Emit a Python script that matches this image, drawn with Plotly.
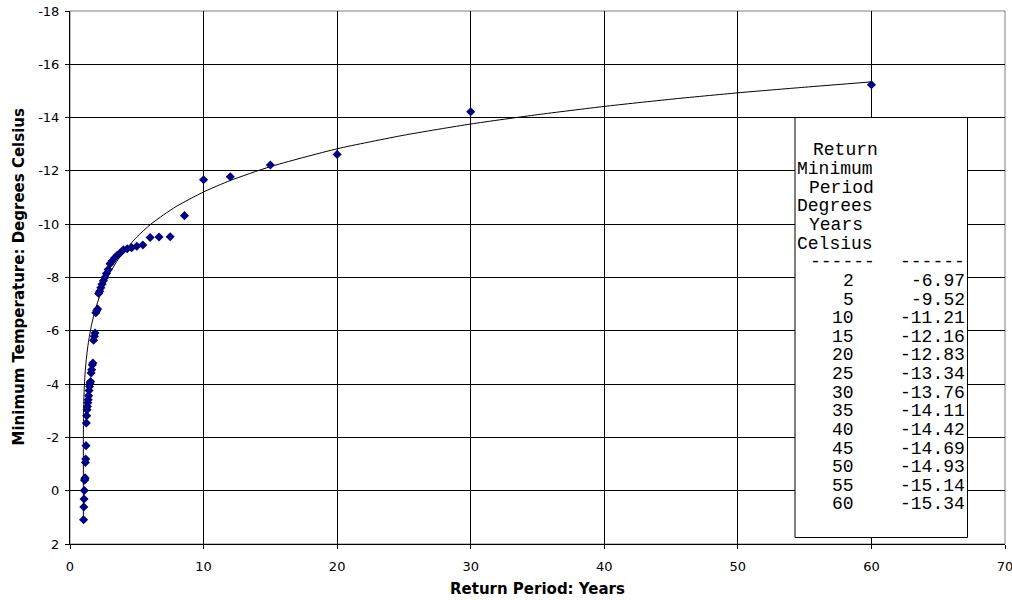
import plotly.graph_objects as go

# ---------------- data ----------------
# observed points: return period (years) and minimum temperature (deg C)
obs_T = [60, 30, 20, 15, 12, 10, 8.571, 7.5, 6.667, 6, 5.455, 5, 4.615, 4.286, 4,
         3.75, 3.529, 3.333, 3.158, 3, 2.857, 2.727, 2.609, 2.5, 2.4, 2.308, 2.222,
         2.143, 2.069, 2, 1.935, 1.875, 1.818, 1.765, 1.714, 1.667, 1.622, 1.579,
         1.538, 1.5, 1.463, 1.429, 1.395, 1.364, 1.333, 1.304, 1.277, 1.25, 1.224,
         1.2, 1.176, 1.154, 1.132, 1.111, 1.091, 1.071, 1.053, 1.034, 1.017]
obs_min = [-15.23, -14.22, -12.62, -12.22, -11.78, -11.67, -10.32, -9.53, -9.52, -9.50,
           -9.22, -9.17, -9.12, -9.08, -9.04, -8.92, -8.83, -8.73, -8.62, -8.52, -8.30,
           -8.15, -8.00, -7.88, -7.75, -7.62, -7.48, -7.40, -6.82, -6.75, -6.68, -5.92,
           -5.80, -5.65, -4.79, -4.72, -4.54, -4.42, -4.10, -4.04, -3.91, -3.76, -3.56,
           -3.41, -3.30, -3.16, -3.04, -2.81, -2.54, -1.69, -1.19, -1.06, -0.48, -0.44,
           -0.39, -0.01, 0.31, 0.61, 1.09]

curve_T = [1.0, 1.0005, 1.003, 1.01, 1.03, 1.06, 1.1, 1.15, 1.2, 1.3, 1.4, 1.5, 1.6,
           1.8, 2, 2.3, 2.6, 3, 3.5, 4, 5, 6, 7, 8, 10, 12, 15, 20, 25, 30, 35, 40,
           45, 50, 55, 60]
curve_min = [1.0, -1.6, -2.2, -2.7, -3.3, -3.77, -4.18, -4.54, -4.83, -5.28, -5.64,
             -5.93, -6.19, -6.62, -6.97, -7.41, -7.77, -8.18, -8.6, -8.95, -9.52,
             -9.98, -10.35, -10.68, -11.21, -11.64, -12.16, -12.83, -13.34, -13.76,
             -14.11, -14.42, -14.69, -14.93, -15.14, -15.34]

# table in the text box
table_header = ["Return", "Minimum", "Period", "Degrees", "Years", "Celsius"]
table_T = [2, 5, 10, 15, 20, 25, 30, 35, 40, 45, 50, 55, 60]
table_min = [-6.97, -9.52, -11.21, -12.16, -12.83, -13.34, -13.76, -14.11, -14.42,
             -14.69, -14.93, -15.14, -15.34]

x_tickvals = [0, 10, 20, 30, 40, 50, 60, 70]
x_ticktext = ["0", "10", "20", "30", "40", "50", "60", "70"]
y_tickvals = [2, 0, -2, -4, -6, -8, -10, -12, -14, -16, -18]
y_ticktext = ["2", "0", "-2", "-4", "-6", "-8", "-10", "-12", "-14", "-16", "-18"]

x_title = "Return Period: Years"
y_title = "Minimum Temperature: Degrees Celsius"

# ---------------- layout geometry ----------------
W, H = 1012, 600
L, R, T, B = 70, 7, 11, 56
PW, PH = W - L - R, H - T - B


def px(xp):
    return (xp - L) / PW


def py(yp):
    return 1 - (yp - T) / PH


fig = go.Figure()
fig.add_trace(go.Scatter(x=curve_T, y=curve_min, mode="lines",
                         line=dict(color="black", width=1, shape="spline", smoothing=0.6),
                         hoverinfo="skip", showlegend=False))
fig.add_trace(go.Scatter(x=obs_T, y=obs_min, mode="markers",
                         marker=dict(symbol="diamond", size=7, color="#000080",
                                     line=dict(width=0)),
                         showlegend=False))

axis_font = dict(family="DejaVu Sans", size=13, color="black")
fig.update_xaxes(range=[0, 70], tickvals=x_tickvals, ticktext=x_ticktext,
                 showgrid=True, gridcolor="black", gridwidth=1,
                 ticks="outside", ticklen=4, tickcolor="black", tickwidth=1,
                 showline=True, linecolor="black", linewidth=1,
                 zeroline=False, tickfont=axis_font, ticklabelstandoff=6,
                 ticklabeloverflow="allow", automargin=False)
fig.update_yaxes(range=[2, -18], tickvals=y_tickvals, ticktext=y_ticktext,
                 showgrid=True, gridcolor="black", gridwidth=1,
                 ticks="outside", ticklen=4, tickcolor="black", tickwidth=1,
                 showline=True, linecolor="black", linewidth=1,
                 zeroline=False, tickfont=axis_font, ticklabelstandoff=3,
                 ticklabeloverflow="allow", automargin=False)

shapes = [
    # plot-area frame (grey top/right)
    dict(type="rect", xref="paper", yref="paper", x0=0, x1=1, y0=0, y1=1,
         line=dict(color="#808080", width=1), layer="below"),
    # text box
    dict(type="rect", xref="paper", yref="paper",
         x0=px(795), x1=px(967.5), y0=py(537.5), y1=py(117.5),
         line=dict(color="black", width=1), fillcolor="white", layer="above"),
]

annotations = [
    dict(text="<b>%s</b>" % x_title, xref="paper", yref="paper", x=0.5, y=py(589),
         xanchor="center", yanchor="middle", showarrow=False,
         font=dict(family="DejaVu Sans", size=15, color="black")),
    dict(text="<b>%s</b>" % y_title, xref="paper", yref="paper", x=px(18), y=0.5,
         xanchor="center", yanchor="middle", showarrow=False, textangle=-90,
         font=dict(family="DejaVu Sans", size=15, color="black")),
]

mono = dict(family="Liberation Mono", size=18, color="black")
row0, step = 150.5, 18.63
header_x = [812.5, 796.5, 808.5, 796.5, 809, 796.5]
for k, (txt, hx) in enumerate(zip(table_header, header_x)):
    annotations.append(dict(text=txt, xref="paper", yref="paper", x=px(hx),
                            y=py(row0 + step * k), xanchor="left", yanchor="middle",
                            showarrow=False, font=mono, borderpad=0, borderwidth=0))
k = len(table_header)
for rx in (875, 965):
    annotations.append(dict(text="------", xref="paper", yref="paper", x=px(rx),
                            y=py(row0 + step * k), xanchor="right", yanchor="middle",
                            showarrow=False, font=mono, borderpad=0, borderwidth=0))
for i, (tv, mv) in enumerate(zip(table_T, table_min)):
    yy = py(row0 + step * (k + 1 + i))
    annotations.append(dict(text=str(tv), xref="paper", yref="paper", x=px(854),
                            y=yy, xanchor="right", yanchor="middle", showarrow=False,
                            font=mono, borderpad=0, borderwidth=0))
    annotations.append(dict(text="%.2f" % mv, xref="paper", yref="paper", x=px(965),
                            y=yy, xanchor="right", yanchor="middle", showarrow=False,
                            font=mono, borderpad=0, borderwidth=0))

fig.update_layout(width=W, height=H, autosize=False,
                  margin=dict(l=L, r=R, t=T, b=B, pad=0, autoexpand=False),
                  plot_bgcolor="white", paper_bgcolor="white",
                  shapes=shapes, annotations=annotations, showlegend=False)

fig.write_html("out.html",
               config={"displayModeBar": False},
               post_script="document.body.style.margin='0';"
                           "document.body.style.padding='0';")
